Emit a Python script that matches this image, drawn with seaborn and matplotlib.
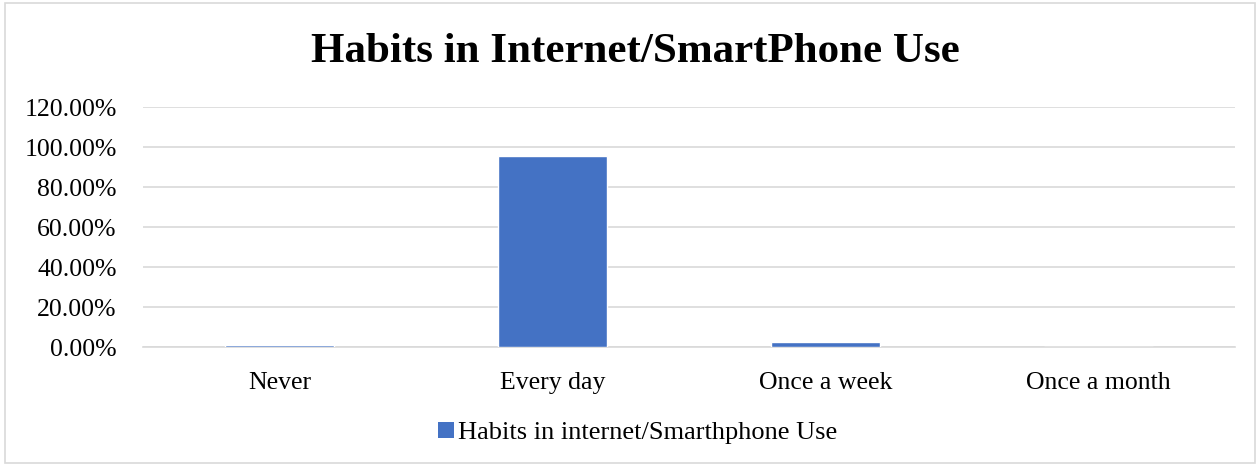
import matplotlib
matplotlib.use("Agg")
import matplotlib.pyplot as plt
import seaborn as sns
import pandas as pd
from matplotlib.patches import Patch, Rectangle
from matplotlib.ticker import FuncFormatter, MultipleLocator

categories = ["Never", "Every day", "Once a week", "Once a month"]
values = [0.01, 0.953, 0.025, 0.0]
series_name = "Habits in internet/Smarthphone Use"
title = "Habits in Internet/SmartPhone Use"

sns.set_theme(style="white")
plt.rcParams["font.family"] = ["Liberation Serif", "DejaVu Serif"]
plt.rcParams["text.color"] = "black"

df = pd.DataFrame({"cat": categories, "val": values})

fig = plt.figure(figsize=(12.6, 4.68), dpi=100)
ax = fig.add_axes([143/1260, 1-347/468, (1235-143)/1260, (347-107)/468])

sns.barplot(data=df, x="cat", y="val", color="#4472C4", width=0.4,
            saturation=1, ax=ax, zorder=3)

ax.set_ylim(0, 1.2)
ax.yaxis.set_major_locator(MultipleLocator(0.2))
ax.yaxis.set_major_formatter(FuncFormatter(lambda v, p: f"{v*100:.2f}%"))
ax.grid(axis="y", color="#D9D9D9", linewidth=1.2)
ax.set_axisbelow(True)
for s in ["top", "right", "left"]:
    ax.spines[s].set_visible(False)
ax.spines["bottom"].set_color("#D9D9D9")
ax.spines["bottom"].set_linewidth(1.2)
ax.spines["bottom"].set_zorder(0.6)
ax.set_xlabel("")
ax.set_ylabel("")
ax.tick_params(axis="both", length=0, labelsize=18.5, colors="black")
ax.tick_params(axis="y", pad=19)
ax.tick_params(axis="x", pad=18)
ax.set_xlim(-0.5, 3.5)

fig.text(635/1260, 1-52/468, title, ha="center", va="center",
         fontsize=31, fontweight="bold", color="black")

handles = [Patch(facecolor="#4472C4", edgecolor="none", label=series_name)]
fig.legend(handles=handles, loc="center", bbox_to_anchor=(638/1260, 1-433/468),
           frameon=False, fontsize=19, handlelength=0.6, handleheight=0.6,
           handletextpad=0.15, labelcolor="black")

fig.patches.append(Rectangle((5/1260, 5/468), 1250/1260, 460/468, transform=fig.transFigure,
                             fill=False, edgecolor="#D9D9D9", linewidth=1.2))

fig.savefig("out.png", dpi=100, facecolor="white")
